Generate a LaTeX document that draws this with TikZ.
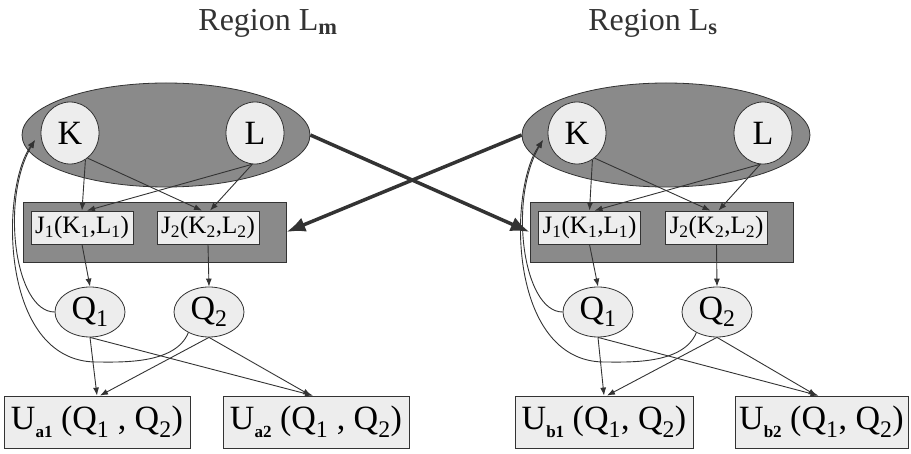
\documentclass[tikz,border=0pt]{standalone}
\usepackage{fontspec}
\setmainfont{Liberation Serif}
\usetikzlibrary{shapes.geometric,arrows.meta,calc}
\definecolor{darkfill}{HTML}{8A8A8A}
\definecolor{lightfill}{HTML}{EDEDED}
\definecolor{edgec}{HTML}{333333}
\newcommand{\usub}[1]{\raisebox{-0.22em}{\fontsize{17}{18}\selectfont\bfseries #1}}
\begin{document}
\begin{tikzpicture}[x=1pt,y=-1pt,
  bigell/.style={ellipse, draw=edgec, fill=darkfill, minimum width=288pt, minimum height=104pt, inner sep=0pt, line width=0.8pt},
  var/.style={ellipse, draw=edgec, fill=lightfill, minimum width=58pt, minimum height=62pt, inner sep=0pt, line width=0.8pt, font=\fontsize{34}{38}\selectfont},
  grp/.style={rectangle, draw=edgec, fill=darkfill, minimum width=263pt, minimum height=60pt, inner sep=0pt, line width=0.8pt},
  fnbox/.style={rectangle, draw=edgec, fill=lightfill, minimum width=102pt, minimum height=33pt, inner sep=0pt, line width=0.8pt, font=\fontsize{25}{28}\selectfont},
  qell/.style={ellipse, draw=edgec, fill=lightfill, minimum width=70pt, minimum height=50pt, inner sep=0pt, line width=0.8pt, font=\fontsize{34}{38}\selectfont},
  ubox/.style={rectangle, draw=edgec, fill=lightfill, minimum height=52pt, inner sep=0pt, line width=0.8pt, font=\fontsize{34}{38}\selectfont},
  ttl/.style={font=\fontsize{32}{36}\selectfont, anchor=base, text=black!80},
  arr/.style={-{Latex[length=8pt,width=6pt]}, draw=edgec, line width=0.9pt},
  bigarrow/.style={-{Latex[length=19pt,width=15pt]}, draw=edgec, line width=3.5pt},
  fb/.style={-{Latex[length=8pt,width=6pt]}, draw=edgec, line width=0.9pt}
]
\useasboundingbox (0,0) rectangle (911,454);

% titles
\node[ttl] (tL) at (268,31) {Region L\textsubscript{\bfseries m}};
\node[ttl] (tR) at (653,31) {Region L\textsubscript{\bfseries s}};

% ---------- left region ----------
\node[bigell] (EL) at (166,135) {};
\node[var] (KL) at (70,133) {K};
\node[var] (LL) at (255,133) {L};
\node[grp] (RL) at (154.5,232) {};
\node[fnbox] (J1L) at (82,227.5) {J\textsubscript{1}(K\textsubscript{1},L\textsubscript{1})};
\node[fnbox] (J2L) at (208,227.5) {J\textsubscript{2}(K\textsubscript{2},L\textsubscript{2})};
\node[qell] (Q1L) at (90,312) {Q\textsubscript{1}};
\node[qell] (Q2L) at (209,312) {Q\textsubscript{2}};
\node[ubox, minimum width=186pt] (U1L) at (97,422) {U\usub{a1} (Q\textsubscript{1} , Q\textsubscript{2})};
\node[ubox, minimum width=186pt] (U2L) at (316,422) {U\usub{a2} (Q\textsubscript{1} , Q\textsubscript{2})};

% ---------- right region ----------
\node[bigell] (ER) at (666,135) {};
\node[var] (KR) at (577,133) {K};
\node[var] (LR) at (763,133) {L};
\node[grp] (RR) at (661.5,232) {};
\node[fnbox] (J1R) at (589.5,227.5) {J\textsubscript{1}(K\textsubscript{1},L\textsubscript{1})};
\node[fnbox] (J2R) at (716.5,227.5) {J\textsubscript{2}(K\textsubscript{2},L\textsubscript{2})};
\node[qell] (Q1R) at (598,312) {Q\textsubscript{1}};
\node[qell] (Q2R) at (717,312) {Q\textsubscript{2}};
\node[ubox, minimum width=178pt] (U1R) at (604,422) {U\usub{b1} (Q\textsubscript{1}, Q\textsubscript{2})};
\node[ubox, minimum width=173pt] (U2R) at (821.5,422) {U\usub{b2} (Q\textsubscript{1}, Q\textsubscript{2})};

% ---------- left arrows ----------
\draw[arr] (KL.-60) -- (J1L.north);
\draw[arr] (KL.-55) -- ([xshift=-6pt]J2L.north);
\draw[arr] (LL.-95) -- ([xshift=5pt]J1L.north);
\draw[arr] (LL.-95) -- ([xshift=2pt]J2L.north);
\draw[arr] (J1L.south) -- (Q1L.north);
\draw[arr] (J2L.south) -- (Q2L.north);
\draw[arr] (Q1L.south) -- (U1L.north);
\draw[arr] (Q1L.south) -- ([xshift=-3pt]U2L.north);
\draw[arr] (Q2L.south) -- ([xshift=3pt]U1L.north);
\draw[arr] (Q2L.south) -- ([xshift=-5pt]U2L.north);
\coordinate (kinL) at (35,140);
\draw[fb] (Q1L.west) .. controls (15,312) and (0,200) .. (kinL);
\draw[fb] (Q2L.225) .. controls (175,365) and (120,362) .. (95,362) .. controls (0,360) and (0,190) .. (kinL);

% ---------- right arrows ----------
\draw[arr] (KR.-60) -- (J1R.north);
\draw[arr] (KR.-55) -- ([xshift=-6pt]J2R.north);
\draw[arr] (LR.-95) -- ([xshift=5pt]J1R.north);
\draw[arr] (LR.-95) -- ([xshift=2pt]J2R.north);
\draw[arr] (J1R.south) -- (Q1R.north);
\draw[arr] (J2R.south) -- (Q2R.north);
\draw[arr] (Q1R.south) -- (U1R.north);
\draw[arr] (Q1R.south) -- ([xshift=-3pt]U2R.north);
\draw[arr] (Q2R.south) -- ([xshift=3pt]U1R.north);
\draw[arr] (Q2R.south) -- ([xshift=-5pt]U2R.north);
\coordinate (kinR) at (543,140);
\draw[fb] (Q1R.west) .. controls (523,312) and (508,200) .. (kinR);
\draw[fb] (Q2R.225) .. controls (683,365) and (628,362) .. (603,362) .. controls (508,360) and (508,190) .. (kinR);

% ---------- cross arrows ----------
\draw[bigarrow] (EL.east) -- (RR.west);
\draw[bigarrow] (ER.west) -- (RL.east);
\end{tikzpicture}
\end{document}
